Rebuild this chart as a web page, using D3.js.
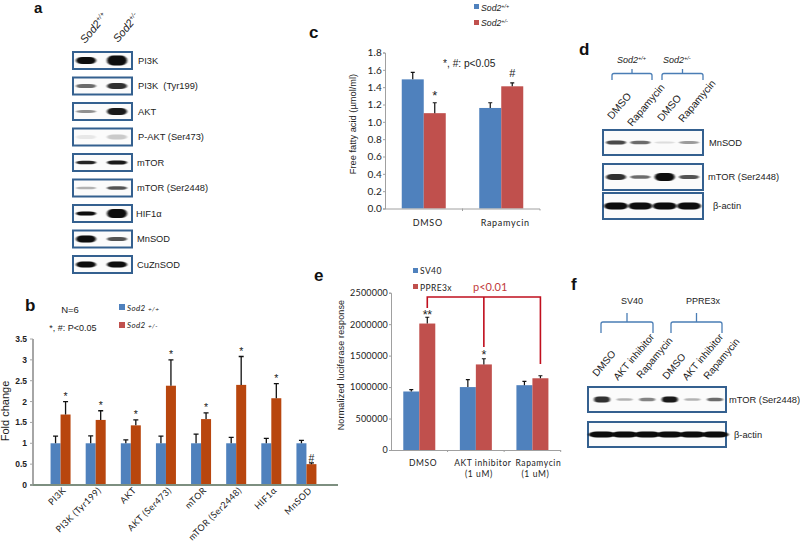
<!DOCTYPE html>
<html><head><meta charset="utf-8">
<script src="https://cdn.jsdelivr.net/npm/d3@7"></script>
<style>
html,body{margin:0;padding:0;background:#fff}
svg{display:block}
text{font-family:"Liberation Sans",Arial,sans-serif;fill:#222}
.lato{font-family:Lato,"Liberation Sans",sans-serif}
.panel{font-weight:bold;font-size:17px;fill:#111}
</style></head><body>
<svg id="c" width="800" height="544"></svg>
<script>
// ---------- data ----------
const aLanes = ["Sod2+/+","Sod2+/-"];
const aRows = ["PI3K","PI3K  (Tyr199)","AKT","P-AKT (Ser473)","mTOR","mTOR (Ser2448)","HIF1\u03b1","MnSOD","CuZnSOD"];
const aDark = [[1,1],[.6,.85],[.45,.95],[.08,.2],[.9,.95],[.3,.7],[1,1],[1,.7],[1,1]];
const aThick = [[7,10],[4,6],[3,7],[4,5],[3.5,4],[2.5,3.5],[4,9],[7,4],[6,6]];

const bCats = ["PI3K","PI3K (Tyr199)","AKT","AKT (Ser473)","mTOR","mTOR (Ser2448)","HIF1\u03b1","MnSOD"];
const bWild = [1,1,1,1,1,1,1,1];
const bHet = [1.69,1.56,1.43,2.38,1.58,2.4,2.08,0.5];
const bWildTop = [1.17,1.18,1.08,1.17,1.22,1.14,1.12,1.07];
const bHetTop = [2.0,1.78,1.56,3.0,1.73,3.08,2.43,0.53];
const bMarks = ["*","*","*","*","*","*","*","#"];
const bTicks = [0,0.5,1,1.5,2,2.5,3,3.5];

const cCats = ["DMSO","Rapamycin"];
const cWild = [1.49,1.16];
const cHet = [1.10,1.41];
const cWildTop = [1.57,1.22];
const cHetTop = [1.22,1.45];
const cMarks = ["*","#"];
const cTicks = [0,0.2,0.4,0.6,0.8,1.0,1.2,1.4,1.6,1.8];

const dLanes = ["DMSO","Rapamycin","DMSO ","Rapamycin "];
const dRows = ["MnSOD","mTOR (Ser2448)","\u03b2-actin"];
const dDark = [[.75,.6,.12,.4],[.85,.6,1,.7],[1,1,1,1]];
const dThick = [[4,3.5,2,3],[6,3.5,8,4],[7,7,7,7]];

const eCats = [["DMSO"],["AKT inhibitor","(1 uM)"],["Rapamycin","(1 uM)"]];
const eSV40 = [930000,1000000,1030000];
const ePPRE = [2010000,1360000,1140000];
const eSV40Top = [960000,1120000,1090000];
const ePPRETop = [2110000,1450000,1180000];
const eMarks = ["**","*",""];
const eTicks = [0,500000,1000000,1500000,2000000,2500000];

const fLanes = ["DMSO","AKT inhibitor","Rapamycin","DMSO ","AKT inhibitor ","Rapamycin "];
const fRows = ["mTOR (Ser2448)","\u03b2-actin"];
const fDark = [[.85,.3,.5,.95,.3,.6],[1,1,1,1,1,1]];
const fThick = [[6,2.5,3.5,6,2.5,3.5],[6,6,6,6,6,6]];

const blue="#4f81bd", red="#c0504d", rust="#b8460e", frame="#34608f", ink="#111";
const svg=d3.select("#c");
svg.append("rect").attr("width",800).attr("height",544).attr("fill","#fff");
const defs=svg.append("defs");
defs.append("filter").attr("id","blur").attr("x","-30%").attr("y","-100%").attr("width","160%").attr("height","300%")
  .append("feGaussianBlur").attr("stdDeviation","1 0.7");

function txt(s,x,y,size,opt={}){
  const t=svg.append("text").attr("x",x).attr("y",y).attr("font-size",size).text(s);
  if(opt.anchor)t.attr("text-anchor",opt.anchor);
  if(opt.cls)t.attr("class",opt.cls);
  if(opt.italic)t.attr("font-style","italic");
  if(opt.bold)t.attr("font-weight","bold");
  if(opt.fill)t.style("fill",opt.fill);
  if(opt.ls)t.style("letter-spacing",opt.ls+"px");
  if(opt.rot!==undefined)t.attr("transform",`rotate(${opt.rot} ${x} ${y})`);
  return t;
}
function sod(x,y,size,sup,opt={}){
  const t=txt("Sod2",x,y,size,{italic:true,...opt});
  t.append("tspan").attr("dy",-size*.35).attr("font-size",size*.62).text(sup);
  return t;
}
// western blot panel: boxes through a point scale, bands through lane scale
function blot(rows,lanes,dark,thick,yS,x0,x1,h,xS,bw,labelX){
  const g=svg.append("g");
  rows.forEach((r,i)=>{
    const y=yS(r);
    g.append("rect").attr("x",x0).attr("y",y).attr("width",x1-x0).attr("height",h)
      .attr("fill","#fbfbfb").attr("stroke",frame).attr("stroke-width",2);
    g.selectAll(null).data(lanes).join("rect")
      .attr("x",d=>xS(d)-bw/2).attr("width",bw)
      .attr("y",(d,j)=>y+h/2-thick[i][j]/2).attr("height",(d,j)=>thick[i][j])
      .attr("rx",bw*.3).attr("ry",(d,j)=>thick[i][j]/2)
      .attr("fill","#0c0c0c")
      .attr("opacity",(d,j)=>dark[i][j])
      .attr("filter","url(#blur)");
    const lx=typeof labelX==="function"?labelX(i):labelX;
    txt(r,lx,y+h/2+3,9.3).style("white-space","pre");
  });
}
function errBars(g,cats,xf,y,tops,base,cap,sw){
  g.selectAll(null).data(cats).join("path")
    .attr("d",(d,i)=>`M${xf(d)},${y(base[i])}V${y(tops[i])}M${xf(d)-cap},${y(tops[i])}H${xf(d)+cap}`)
    .attr("stroke",ink).attr("fill","none").attr("stroke-width",sw);
}
function bars(g,cats,xf,w,y,vals,col){
  g.selectAll(null).data(cats).join("rect")
   .attr("x",d=>xf(d)).attr("width",w)
   .attr("y",(d,i)=>y(vals[i])).attr("height",(d,i)=>y(0)-y(vals[i])).attr("fill",col);
}
function bracket(x0,x1,y0,y1,yTop){
  const m=(x0+x1)/2;
  svg.append("path").attr("d",`M${x0},${y1}V${y0+2}Q${x0},${y0} ${x0+2},${y0}H${x1-2}Q${x1},${y0} ${x1},${y0+2}V${y1}M${m},${y0}V${yTop}`)
   .attr("fill","none").attr("stroke","#4a7db5").attr("stroke-width",1.3);
}

// ---------- panel a ----------
txt("a",34,13,15,{cls:"panel"}).style("font-size","15px");
const aY=d3.scalePoint().domain(aRows).range([52,256]);
const aX=d3.scalePoint().domain(aLanes).range([86,117]);
blot(aRows,aLanes,aDark,aThick,aY,73,132,17,aX,20,i=>[138,138,138,138,137,137,136,137,137][i]);
sod(aX(aLanes[0])-1,44,11,"+/+",{rot:-50});
sod(aX(aLanes[1])+1,43,11,"+/-",{rot:-50});

// ---------- panel b ----------
txt("b",25,311,17,{cls:"panel"});
txt("N=6",70,313,9.5,{anchor:"middle"});
txt("*, #: P<0.05",73,331,9,{anchor:"middle"});
svg.append("rect").attr("x",119).attr("y",304).attr("width",6).attr("height",6).attr("fill",blue);
svg.append("rect").attr("x",119).attr("y",322).attr("width",6).attr("height",6).attr("fill",red);
txt("Sod2 ",127,311,8,{italic:true,cls:"lato",ls:.4}).append("tspan").attr("font-size",6.5).text("+/+");
txt("Sod2 ",127,328,8,{italic:true,cls:"lato",ls:.4}).append("tspan").attr("font-size",6.5).text("+/-");
const bX=d3.scaleBand().domain(bCats).range([43,324]);
const bY=d3.scaleLinear().domain([0,3.5]).range([485,339]);
const bG=svg.append("g");
const bW=10;
const bC=d=>bX(d)+bX.bandwidth()/2;
bars(bG,bCats,d=>bC(d)-bW,bW,bY,bWild,blue);
bars(bG,bCats,bC,bW,bY,bHet,rust);
errBars(bG,bCats,d=>bC(d)-bW/2,bY,bWildTop,bWild,2.5,1.3);
errBars(bG,bCats,d=>bC(d)+bW/2,bY,bHetTop,bHet,2.5,1.3);
bG.selectAll(null).data(bCats).join("text").attr("text-anchor","middle").attr("font-size",10.5)
  .attr("x",d=>bC(d)+bW/2).attr("y",(d,i)=>bY(bHetTop[i])-(i==7?1:2)).text((d,i)=>bMarks[i]);
svg.append("line").attr("x1",33).attr("x2",33).attr("y1",339).attr("y2",485).attr("stroke","#a6a6a6").attr("stroke-width",2);
svg.append("line").attr("x1",30).attr("x2",338).attr("y1",485).attr("y2",485).attr("stroke","#7d8f80").attr("stroke-width",2);
bTicks.forEach(t=>{txt(t,27,bY(t)+3,8.5,{anchor:"end",bold:true});
  svg.append("line").attr("x1",30).attr("x2",33).attr("y1",bY(t)).attr("y2",bY(t)).attr("stroke","#a6a6a6");});
svg.append("text").attr("transform","translate(8.5,411) rotate(-90)").attr("text-anchor","middle").attr("font-size",11).text("Fold change");
bCats.forEach(c=>txt(c,bC(c)+6,491,9,{anchor:"end",rot:-45,cls:"lato",ls:.4}));

// ---------- panel c ----------
txt("c",309,38,17,{cls:"panel"});
svg.append("rect").attr("x",474).attr("y",4).attr("width",5).attr("height",5).attr("fill",blue);
svg.append("rect").attr("x",474).attr("y",20).attr("width",5).attr("height",5).attr("fill",red);
sod(481,11,8.7,"+/+");
sod(481,26,8.7,"+/-");
txt("*, #: p<0.05",443,67,10.2);
const cX=d3.scaleBand().domain(cCats).range([385,540]);
const cY=d3.scaleLinear().domain([0,1.8]).range([208.5,52.5]);
const cG=svg.append("g");
const cW=22;
const cC=d=>cX(d)+cX.bandwidth()/2;
bars(cG,cCats,d=>cC(d)-cW,cW,cY,cWild,blue);
bars(cG,cCats,cC,cW,cY,cHet,red);
errBars(cG,cCats,d=>cC(d)-cW/2,cY,cWildTop,cWild,2,1.2);
errBars(cG,cCats,d=>cC(d)+cW/2,cY,cHetTop,cHet,2,1.2);
cG.selectAll(null).data(cCats).join("text").attr("text-anchor","middle").attr("font-size",(d,i)=>i?11:13)
  .attr("x",d=>cC(d)+cW/2).attr("y",(d,i)=>i?77:100).text((d,i)=>cMarks[i]);
svg.append("g").attr("transform","translate(385,0)").call(d3.axisLeft(cY).tickValues(cTicks).tickFormat(d3.format(".1f")).tickSize(2))
  .call(g=>{g.select(".domain").attr("stroke","#a0a0a0");g.selectAll("line").attr("stroke","#a0a0a0");
    g.selectAll("text").attr("font-size",10).attr("x",-3).style("letter-spacing",".2px").style("font-family","Lato");});
svg.append("g").attr("transform","translate(0,208.5)").call(d3.axisBottom(cX).tickFormat("").tickSize(2))
  .call(g=>{g.select(".domain").attr("stroke","#a0a0a0").attr("d","M385,0.5H540V2");g.selectAll("line").attr("stroke","none");});
svg.append("line").attr("x1",462.5).attr("x2",462.5).attr("y1",208.5).attr("y2",211).attr("stroke","#a0a0a0");
cCats.forEach(c=>txt(c,cC(c)+4,226,9,{anchor:"middle",cls:"lato",ls:.7}));
svg.append("text").attr("transform","translate(356,124) rotate(-90)").attr("text-anchor","middle").attr("font-size",9.3).text("Free fatty acid (\u00b5mol/ml)");

// ---------- panel d ----------
txt("d",579,55,17,{cls:"panel"});
sod(617,63,9,"+/+");
sod(663,63,9,"+/-");
bracket(612,652,73.5,80,69);
bracket(662,703,73.5,80,69);
const dY=d3.scalePoint().domain(dRows).range([130,193]);
const dX=d3.scalePoint().domain(dLanes).range([616,689]);
blot(dRows.slice(0,1),dLanes,dDark.slice(0,1),dThick.slice(0,1),dY,603,703,25,dX,20,709);
blot([dRows[1]],dLanes,[dDark[1]],[dThick[1]],d=>164,603,703,26,dX,20,708);
blot([dRows[2]],dLanes,[dDark[2]],[dThick[2]],dY,603,703,26,dX,24,713);
dLanes.forEach((l,i)=>txt(l.trim(),[612,632,662,683][i],[120,127,122,123][i],10.3,{rot:-50}));

// ---------- panel e ----------
txt("e",314,281,17,{cls:"panel"});
svg.append("rect").attr("x",413).attr("y",268).attr("width",5).attr("height",5).attr("fill",blue);
svg.append("rect").attr("x",413).attr("y",284).attr("width",5).attr("height",5).attr("fill",red);
txt("SV40",420,274,8.5,{ls:.4,cls:"lato"});
txt("PPRE3x",420,291,8.5,{ls:.4,cls:"lato"});
const eKeys=eCats.map(d=>d[0]);
const eX=d3.scaleBand().domain(eKeys).range([391,560.7]);
const eY=d3.scaleLinear().domain([0,2500000]).range([450,292.7]);
const eG=svg.append("g");
const eW=16;
const eC=d=>eX(d)+eX.bandwidth()/2;
bars(eG,eKeys,d=>eC(d)-eW,eW,eY,eSV40,blue);
bars(eG,eKeys,eC,eW,eY,ePPRE,red);
errBars(eG,eKeys,d=>eC(d)-eW/2,eY,eSV40Top,eSV40,2,1.2);
errBars(eG,eKeys,d=>eC(d)+eW/2,eY,ePPRETop,ePPRE,2,1.2);
eG.selectAll(null).data(eKeys).join("text").attr("text-anchor","middle").attr("font-size",12.5).style("letter-spacing","-.3px")
  .attr("x",d=>eC(d)+eW/2).attr("y",(d,i)=>eY(ePPRETop[i])+(i?0:2)).text((d,i)=>eMarks[i]);
svg.append("g").attr("transform","translate(391,0)").call(d3.axisLeft(eY).tickValues(eTicks).tickFormat(d3.format("d")).tickSize(2))
  .call(g=>{g.select(".domain").attr("stroke","#a0a0a0");g.selectAll("line").attr("stroke","#a0a0a0");
    g.selectAll("text").attr("font-size",9).attr("x",-3).style("font-family","Lato").style("letter-spacing",".2px");});
svg.append("g").attr("transform","translate(0,450)").call(d3.axisBottom(eX).tickFormat("").tickSize(0))
  .call(g=>{g.select(".domain").attr("stroke","#a0a0a0").attr("d","M391,0.5H560.7");g.selectAll("line").remove();});
eX.domain().slice(1).concat([null]).forEach((d,i)=>{const x=391+(i+1)*eX.step();
  svg.append("line").attr("x1",x).attr("x2",x).attr("y1",450).attr("y2",452).attr("stroke","#a0a0a0");});
const eLabelShift=[[3.7],[7,3],[6,3]];
eCats.forEach((c,k)=>c.forEach((s,i)=>txt(s,eC(c[0])+eLabelShift[k][i],[466,477][i],8.5,{anchor:"middle",cls:"lato",ls:.6})));
svg.append("text").attr("transform","translate(344,365) rotate(-90)").attr("text-anchor","middle").attr("font-size",9).style("letter-spacing",".15px").text("Normalized luciferase response");
txt("p<0.01",473,291,11,{fill:"#bf3a3a",cls:"lato"});
const px=[eC(eKeys[0])+eW/2,eC(eKeys[1])+eW/2,eC(eKeys[2])+eW/2];
svg.append("path").attr("d",`M${px[0]},308V297H${px[2]}V364M${px[1]},297V347`).attr("fill","none").attr("stroke","#c00f1e").attr("stroke-width",1.6);

// ---------- panel f ----------
txt("f",571,290,17,{cls:"panel"});
txt("SV40",632,304,9,{anchor:"middle"});
txt("PPRE3x",703,304,9,{anchor:"middle"});
bracket(601,653,322,333,313);
bracket(671,722,322,333,313);
const fX=d3.scalePoint().domain(fLanes).range([602,715]);
blot([fRows[0]],fLanes,[fDark[0]],[fThick[0]],d=>387,588,726,25,fX,16,729);
blot([fRows[1]],fLanes,[fDark[1]],[fThick[1]],d=>422,588,726,25,fX,27,734);
fLanes.forEach((l,i)=>txt(l.trim(),[597,618,641,667,687,708][i],[377,381,379,380,381,380][i],10,{rot:-50}));
</script>
</body></html>
